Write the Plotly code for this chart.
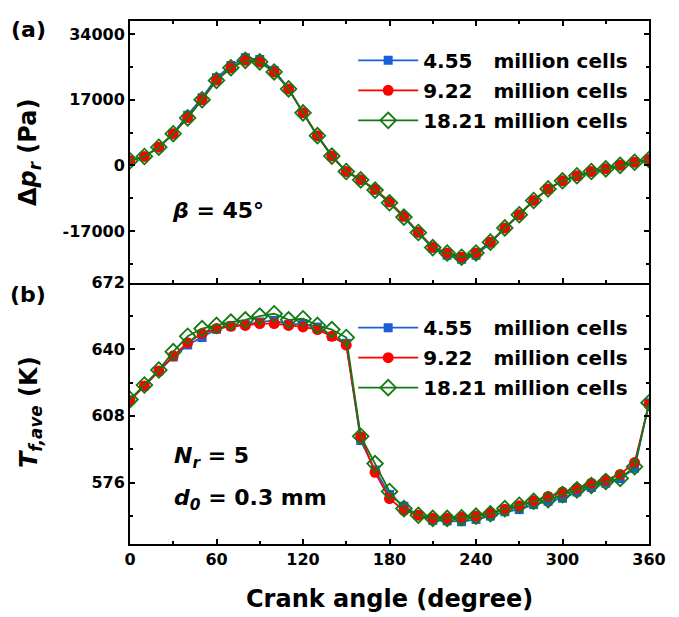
import plotly.graph_objects as go

# ---------------- data ----------------
angle = list(range(0, 361, 10))

dp_455 = [1200, 2300, 4700, 8300, 13000, 17500, 22700, 25900, 27900, 27400, 24600, 19900, 13600, 7700, 2400,
          -1600, -3750, -6400, -9700, -13400, -17500, -21500, -23300, -24300, -23300, -20100, -16300, -12800,
          -9100, -6100, -4000, -2700, -1600, -900, 0, 800, 1500]
dp_922 = [1200, 2300, 4700, 8200, 12400, 17000, 22100, 25300, 27200, 26800, 24200, 19800, 13600, 7700, 2400,
          -1600, -3700, -6200, -9400, -13200, -17300, -21200, -22700, -23800, -22700, -19900, -16200, -12800,
          -9100, -6100, -4000, -2700, -1600, -900, 0, 800, 1500]
dp_1821 = [1200, 2300, 4700, 8200, 12300, 17000, 22000, 25300, 27200, 26800, 24200, 19800, 13600, 7700, 2400,
           -1600, -3750, -6400, -9700, -13400, -17400, -21300, -22700, -23800, -22700, -19900, -16200, -12800,
           -9100, -6100, -4000, -2700, -1600, -900, 0, 800, 1500]

tf_455 = [615.6, 622.3, 629.5, 636.3, 642.0, 645.6, 649.6, 651.2, 651.8, 653.0, 653.8, 651.8, 652.3, 650.7,
          646.2, 642.8, 596.2, 582.0, 570.2, 564.6, 560.3, 557.8, 557.6, 557.2, 558.3, 559.9, 562.0, 563.0,
          565.4, 567.0, 568.5, 571.4, 573.6, 575.7, 577.8, 582.8, 614.3]
tf_922 = [615.3, 622.3, 629.5, 636.8, 643.1, 647.5, 649.9, 651.0, 651.4, 652.3, 652.3, 651.4, 650.7, 649.4,
          646.2, 642.0, 598.0, 580.9, 568.3, 562.6, 560.3, 558.8, 558.8, 559.3, 559.9, 561.5, 563.2, 564.8,
          567.3, 569.3, 571.4, 573.3, 575.7, 577.3, 579.9, 585.6, 613.5]
tf_1821 = [615.8, 622.8, 630.0, 638.8, 646.2, 649.9, 651.4, 653.0, 654.1, 655.9, 657.0, 654.1, 654.6, 651.4,
           649.4, 645.6, 598.2, 585.1, 571.7, 563.5, 560.3, 558.8, 558.8, 559.1, 559.9, 561.0, 563.5, 565.1,
           567.0, 567.8, 570.2, 572.5, 574.6, 576.5, 578.0, 583.6, 614.3]

series_names = ["4.55\u00a0\u00a0\u00a0million cells", "9.22\u00a0\u00a0\u00a0million cells", "18.21 million cells"]

x_ticks = [0, 60, 120, 180, 240, 300, 360]
dp_ticks = [-17000, 0, 17000, 34000]
dp_ticktext = ["-17000", "0", "17000", "34000"]
tf_ticks = [576, 608, 640, 672]

# ---------------- style ----------------
FONT = "DejaVu Sans, Liberation Sans, Arial"
BLUE = "#1a5fd8"
RED = "#ff0000"
GREEN = "#137a13"

styles = [
    dict(color=BLUE, symbol="square", size=9, mline=0),
    dict(color=RED, symbol="circle", size=11, mline=0),
    dict(color=GREEN, symbol="diamond-open", size=12, mline=1.8),
]

fig = go.Figure()

top_data = [dp_455, dp_922, dp_1821]
bot_data = [tf_455, tf_922, tf_1821]

for i, (name, ys, st) in enumerate(zip(series_names, top_data, styles)):
    fig.add_trace(go.Scatter(
        x=angle, y=ys, name=name, mode="lines+markers", xaxis="x", yaxis="y", legend="legend",
        legendgroup=f"a{i}",
        line=dict(color=st["color"], width=1.8),
        marker=dict(symbol=st["symbol"], size=st["size"], color=st["color"],
                    line=dict(color=st["color"], width=st["mline"])),
    ))

for i, (name, ys, st) in enumerate(zip(series_names, bot_data, styles)):
    fig.add_trace(go.Scatter(
        x=angle, y=ys, name=name, mode="lines+markers", xaxis="x2", yaxis="y2", legend="legend2",
        legendgroup=f"b{i}",
        line=dict(color=st["color"], width=1.8),
        marker=dict(symbol=st["symbol"], size=st["size"], color=st["color"],
                    line=dict(color=st["color"], width=st["mline"])),
    ))

axis_common = dict(
    showline=True, linecolor="black", linewidth=2, ticks="inside", ticklen=5, tickwidth=1.5,
    tickcolor="black", showgrid=False, zeroline=False,
    tickfont=dict(family=FONT, size=16, color="black", weight="bold"),
)

legend_font = dict(family=FONT, size=20, color="black", weight="bold")

fig.update_layout(
    width=679, height=617,
    margin=dict(l=130, r=30, t=13, b=73),
    paper_bgcolor="white", plot_bgcolor="white",
    showlegend=True,
    xaxis=dict(domain=[0, 1], range=[0, 360], tickvals=x_ticks, showticklabels=False, mirror="ticks",
               anchor="y", minor=dict(ticks="inside", dtick=30, tick0=0, ticklen=3, tickwidth=1.5, tickcolor="black"),
               **axis_common),
    yaxis=dict(domain=[0.5, 1], range=[-30350, 37400], tickvals=dp_ticks, ticktext=dp_ticktext, mirror="ticks",
               anchor="x", minor=dict(ticks="inside", dtick=8500, tick0=0, ticklen=3, tickwidth=1.5, tickcolor="black"),
               **axis_common),
    xaxis2=dict(domain=[0, 1], range=[0, 360], tickvals=x_ticks, anchor="y2", mirror=False,
                minor=dict(ticks="inside", dtick=30, tick0=0, ticklen=3, tickwidth=1.5, tickcolor="black"),
                **axis_common),
    yaxis2=dict(domain=[0, 0.5], range=[546.5, 672.01], tickvals=tf_ticks, mirror="ticks", anchor="x2",
                minor=dict(ticks="inside", dtick=16, tick0=0, ticklen=3, tickwidth=1.5, tickcolor="black"),
                **axis_common),
    legend=dict(x=0.43, y=0.962, xanchor="left", yanchor="top", bgcolor="rgba(0,0,0,0)",
                font=legend_font, itemwidth=60, tracegroupgap=1),
    legend2=dict(x=0.43, y=0.451, xanchor="left", yanchor="top", bgcolor="rgba(0,0,0,0)",
                 font=legend_font, itemwidth=60, tracegroupgap=1),
)

def paper_x(px):
    return (px - 130) / (649.3 - 130)

def paper_y(py):
    return 1 - (py - 13) / 531

ann_font = dict(family=FONT, color="black", weight="bold")

annotations = [
    dict(text="Crank angle (degree)", x=0.5, y=paper_y(600), font=dict(size=24, **ann_font)),
    dict(text="Δ<i>p<sub>r</sub></i> (Pa)", x=paper_x(30), y=paper_y(147), textangle=-90,
         font=dict(size=24, **ann_font)),
    dict(text="<i>T<sub>f,ave</sub></i> (K)", x=paper_x(30), y=paper_y(410), textangle=-90,
         font=dict(size=24, **ann_font)),
    dict(text="(a)", x=paper_x(28), y=paper_y(22), font=dict(size=22, **ann_font)),
    dict(text="(b)", x=paper_x(28), y=paper_y(291), font=dict(size=22, **ann_font)),
    dict(text="<i>β</i> = 45°", x=paper_x(170), y=paper_y(205), xanchor="left", font=dict(size=22, **ann_font)),
    dict(text="<i>N<sub>r</sub></i> = 5", x=paper_x(172), y=paper_y(456), xanchor="left",
         font=dict(size=22, **ann_font)),
    dict(text="<i>d<sub>0</sub></i> = 0.3 mm", x=paper_x(172), y=paper_y(499), xanchor="left",
         font=dict(size=22, **ann_font)),
]
for a in annotations:
    a.setdefault("xanchor", "center")
    a.update(xref="paper", yref="paper", yanchor="middle", showarrow=False)
fig.update_layout(annotations=annotations)

fig.write_html("out.html")
